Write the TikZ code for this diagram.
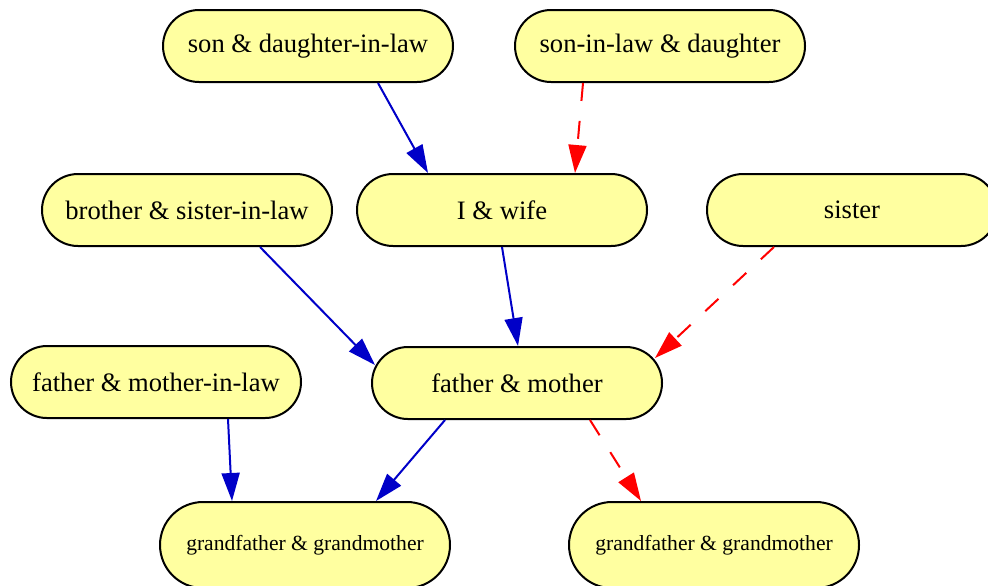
\documentclass[tikz,border=0pt]{standalone}
\usepackage{fontspec}
\setmainfont{Liberation Serif}
\usetikzlibrary{arrows.meta, calc}
\definecolor{nodeyellow}{RGB}{255,255,160}
\definecolor{edgeblue}{RGB}{0,0,200}
\tikzstyle{yblock} = [rectangle, draw, line width=1pt, fill=nodeyellow, text centered, minimum width=145pt, minimum height=36pt, rounded corners=18pt, font=\fontsize{13.3}{16}\selectfont]
\tikzstyle{gblock} = [yblock, minimum height=43pt, rounded corners=21.5pt, font=\fontsize{10.8}{13}\selectfont]
\tikzstyle{bline} = [draw, line width=1pt, color=edgeblue, -{Triangle[length=14pt, width=9pt]}]
\tikzstyle{rline} = [bline, color=red, dash pattern=on 9pt off 10pt]

\begin{document}
\begin{tikzpicture}[x=0.5pt, y=-0.5pt]
    \useasboundingbox (0,0) rectangle (988,585);
    % Place nodes
    \node [yblock] (sdil) at (308,46) {son \& daughter-in-law};
    \node [yblock] (sild) at (660,46) {son-in-law \& daughter};
    \node [yblock] (bsil) at (187,210) {brother \& sister-in-law};
    \node [yblock] (iw) at (502,210) {I \& wife};
    \node [yblock] (sis) at (852,210) {sister};
    \node [yblock] (fmil) at (156,382) {father \& mother-in-law};
    \node [yblock] (fm) at (517,383) {father \& mother};
    \node [gblock] (gpl) at (305,545) {grandfather \& grandmother};
    \node [gblock] (gpr) at (714,545) {grandfather \& grandmother};
    % Draw edges
    \path [bline] ($(sdil.south)+(70,0)$) -- ($(iw.north)+(-74,0)$);
    \path [rline] ($(sild.south)+(-77,0)$) -- ($(iw.north)+(73,0)$);
    \path [bline] ($(bsil.south)+(73,0)$) -- ($(fm.west)+(4,-18)$);
    \path [bline] (iw.south) -- ($(fm.north)+(1,0)$);
    \path [rline] ($(sis.south)+(-78,0)$) -- ($(fm.east)+(-8,-25)$);
    \path [bline] ($(fmil.south)+(72,0)$) -- ($(gpl.north)+(-73,0)$);
    \path [bline] ($(fm.south)+(-72,0)$) -- ($(gpl.north)+(71,0)$);
    \path [rline] ($(fm.south)+(73,0)$) -- ($(gpr.north)+(-73,0)$);
\end{tikzpicture}
\end{document}
